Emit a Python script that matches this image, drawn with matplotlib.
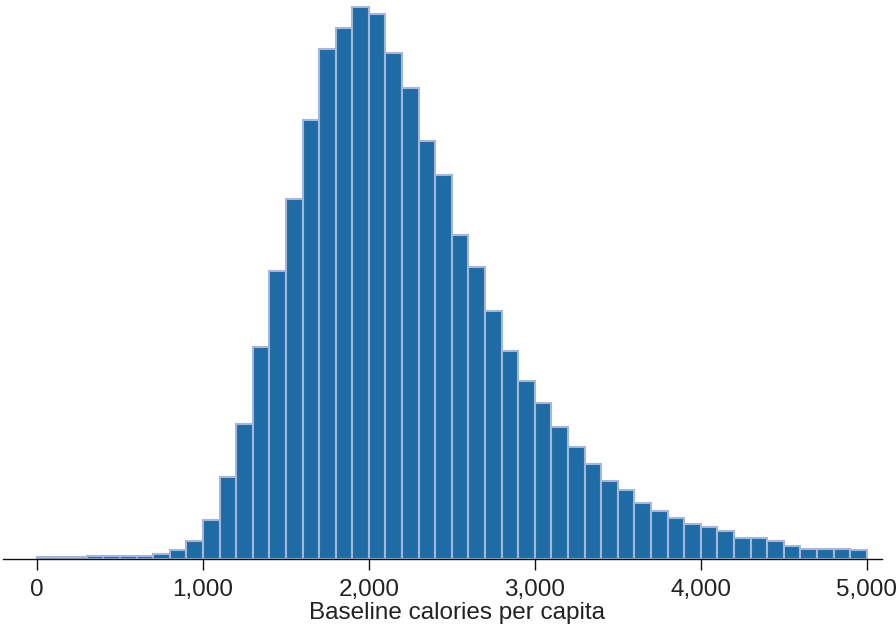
import numpy as np
import matplotlib
matplotlib.use("Agg")
import matplotlib.pyplot as plt
from matplotlib.ticker import FuncFormatter

# histogram of baseline calories per capita, bins of 100
bin_left = np.arange(0, 5000, 100)
counts = [1.5, 1.5, 1.5, 2.5, 3, 2.5, 3, 5, 9, 18, 39,
          82, 135, 212, 288, 360, 439, 510, 531, 552,
          545, 506, 471, 418, 384, 324, 292, 248, 208, 178,
          156, 132, 112, 95, 78, 69, 56, 48, 41, 35,
          32, 28, 21, 21, 18, 13, 10, 10, 10, 9]
tick_vals = [0, 1000, 2000, 3000, 4000, 5000]
xlabel = "Baseline calories per capita"

plt.rcParams['font.family'] = ['Liberation Sans', 'DejaVu Sans']

W, H = 896, 632
fig = plt.figure(figsize=(W / 100, H / 100), dpi=100)
x0, x1, ybase = 3.3, 881.7, 558.5
ax = fig.add_axes([x0 / W, 1 - ybase / H, (x1 - x0) / W, ybase / H])

ax.bar(bin_left, counts, width=100, align='edge',
       color='#1f6ba5', edgecolor='#a5b6da', linewidth=1.5, zorder=2)

ax.set_xlim(-203, 5090)
ax.set_ylim(0, ybase)

for s in ['top', 'right', 'left']:
    ax.spines[s].set_visible(False)
ax.spines['bottom'].set_linewidth(1.0)
ax.spines['bottom'].set_color('#111111')
ax.spines['bottom'].set_zorder(3)
ax.set_yticks([])

ax.set_xticks(tick_vals)
ax.xaxis.set_major_formatter(FuncFormatter(lambda v, p: f"{int(v):,}"))
ax.tick_params(axis='x', length=8, width=1.0, color='#111111',
               labelsize=17.5, labelcolor='#222222', pad=7)

ax.set_xlabel(xlabel, fontsize=17.5, color='#222222')
ax.xaxis.label.set_va('baseline')
ax.xaxis.set_label_coords((457 - x0) / (x1 - x0), (ybase - 619) / ybase)

fig.savefig("out.png", dpi=100)
